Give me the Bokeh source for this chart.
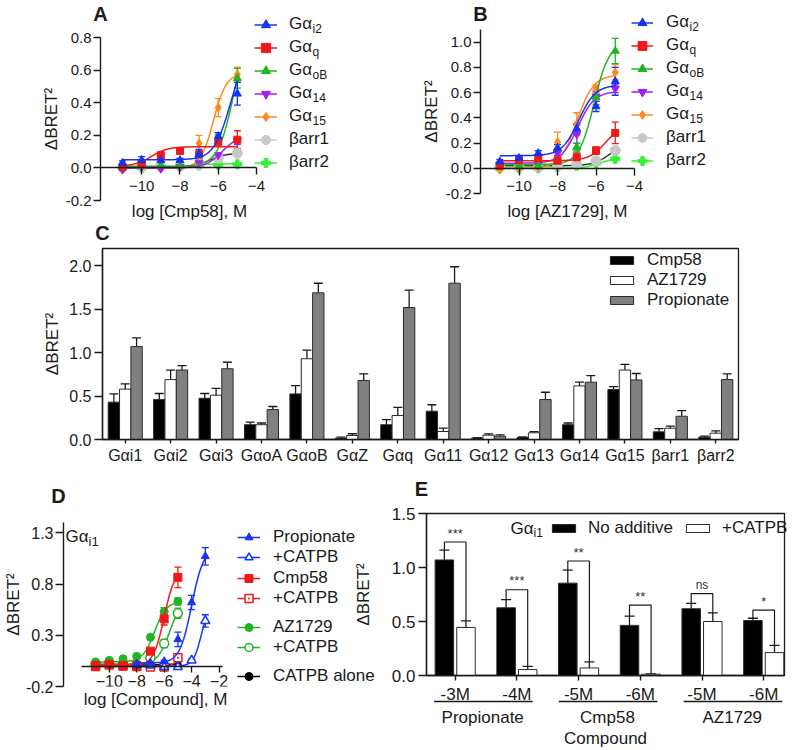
import numpy as np
from bokeh.plotting import figure
from bokeh.models import (Range1d, FactorRange, ColumnDataSource, Whisker, TeeHead, Legend,
                          LegendItem, Label, LabelSet, FixedTicker, NumeralTickFormatter)
from bokeh.transform import dodge
from bokeh.layouts import row, column
from bokeh.core.properties import value
from bokeh.embed import file_html
from bokeh.resources import INLINE

# ======================= DATA =======================
log_conc = [-11, -10, -9, -8, -7, -6, -5]
sensor_main = ["Gα", "Gα", "Gα", "Gα", "Gα", "βarr1", "βarr2"]
sensor_sub = ["i2", "q", "oB", "14", "15", "", ""]

# Panel A (Cmp58): mean / SEM
a_gai2 = [0.031, 0.047, 0.047, 0.047, 0.084, 0.194, 0.455]
a_gai2_sem = [0.012, 0.022, 0.012, 0.012, 0.030, 0.022, 0.070]
a_gaq = [0.006, 0.027, 0.078, 0.104, 0.084, 0.160, 0.173]
a_gaq_sem = [0.008, 0.010, 0.010, 0.010, 0.012, 0.015, 0.055]
a_gaob = [0.006, 0.010, 0.016, 0.012, 0.080, 0.185, 0.550]
a_gaob_sem = [0.006, 0.006, 0.006, 0.006, 0.015, 0.020, 0.060]
a_ga14 = [-0.010, 0.006, -0.004, 0.006, 0.030, 0.078, 0.165]
a_ga14_sem = [0.006, 0.006, 0.006, 0.006, 0.010, 0.015, 0.020]
a_ga15 = [0.000, 0.006, -0.004, 0.016, 0.150, 0.370, 0.573]
a_ga15_sem = [0.006, 0.006, 0.006, 0.008, 0.050, 0.055, 0.045]
a_barr1 = [0.005, 0.005, 0.010, 0.010, 0.020, 0.060, 0.090]
a_barr1_sem = [0.004, 0.004, 0.004, 0.004, 0.006, 0.008, 0.010]
a_barr2 = [0.000, 0.000, 0.005, 0.010, 0.015, 0.020, 0.022]
a_barr2_sem = [0.004, 0.004, 0.004, 0.004, 0.005, 0.005, 0.006]
# fitted sigmoid parameters (order: Gαi2, Gαq, GαoB, Gα14, Gα15, βarr1, βarr2)
a_fit_bottom = [0.05, 0.01, 0.01, 0.0, 0.0, 0.0, 0.0]
a_fit_top = [0.75, 0.13, 1.0, 0.2, 0.58, 0.09, 0.025]
a_fit_logec50 = [-5.35, -9.5, -5.1, -5.8, -6.25, -6.5, -7.5]
a_fit_hill = [1.0, 1.0, 1.0, 1.0, 1.3, 1.0, 1.0]

# Panel B (AZ1729): mean / SEM
b_gai2 = [0.053, 0.080, 0.119, 0.162, 0.313, 0.490, 0.689]
b_gai2_sem = [0.015, 0.015, 0.020, 0.025, 0.040, 0.040, 0.110]
b_gaq = [0.020, 0.066, 0.080, 0.060, 0.087, 0.140, 0.280]
b_gaq_sem = [0.020, 0.015, 0.015, 0.030, 0.035, 0.030, 0.085]
b_gaob = [0.030, 0.025, 0.020, 0.060, 0.167, 0.564, 0.930]
b_gaob_sem = [0.010, 0.010, 0.010, 0.015, 0.030, 0.060, 0.100]
b_ga14 = [0.030, 0.030, 0.030, 0.120, 0.270, 0.570, 0.630]
b_ga14_sem = [0.010, 0.010, 0.010, 0.020, 0.070, 0.040, 0.030]
b_ga15 = [-0.010, 0.000, 0.010, 0.207, 0.350, 0.630, 0.760]
b_ga15_sem = [0.010, 0.010, 0.010, 0.080, 0.090, 0.030, 0.060]
b_barr1 = [0.010, 0.010, 0.010, 0.020, 0.030, 0.060, 0.140]
b_barr1_sem = [0.005, 0.005, 0.005, 0.006, 0.008, 0.010, 0.015]
b_barr2 = [0.000, 0.000, 0.000, 0.010, 0.020, 0.040, 0.075]
b_barr2_sem = [0.004, 0.004, 0.004, 0.005, 0.006, 0.008, 0.012]
b_fit_bottom = [0.10, 0.06, 0.03, 0.04, 0.0, 0.02, 0.0]
b_fit_top = [0.66, 0.35, 1.0, 0.61, 0.74, 0.20, 0.09]
b_fit_logec50 = [-6.9, -5.5, -6.1, -6.95, -7.0, -5.3, -5.7]
b_fit_hill = [1.0, 1.0, 1.1, 1.0, 1.0, 1.0, 1.0]

# Panel C: max response per biosensor
c_groups = ["Gαi1", "Gαi2", "Gαi3", "GαoA", "GαoB", "GαZ", "Gαq", "Gα11", "Gα12",
            "Gα13", "Gα14", "Gα15", "βarr1", "βarr2"]
c_main = ["Gα", "Gα", "Gα", "Gα", "Gα", "Gα", "Gα", "Gα", "Gα", "Gα", "Gα", "Gα",
          "βarr1", "βarr2"]
c_sub = ["i1", "i2", "i3", "oA", "oB", "Z", "q", "11", "12", "13", "14", "15", "", ""]
c_cmp58 = [0.43, 0.46, 0.475, 0.17, 0.525, 0.015, 0.17, 0.326, 0.015, 0.023, 0.17, 0.575, 0.088, 0.027]
c_cmp58_sem = [0.095, 0.07, 0.055, 0.03, 0.095, 0.012, 0.06, 0.074, 0.005, 0.006, 0.02, 0.035, 0.038, 0.011]
c_az1729 = [0.58, 0.69, 0.51, 0.17, 0.93, 0.046, 0.276, 0.092, 0.05, 0.077, 0.617, 0.80, 0.13, 0.073]
c_az1729_sem = [0.06, 0.11, 0.08, 0.02, 0.10, 0.02, 0.094, 0.038, 0.015, 0.013, 0.043, 0.066, 0.023, 0.027]
c_prop = [1.07, 0.80, 0.815, 0.345, 1.69, 0.68, 1.52, 1.80, 0.038, 0.46, 0.66, 0.686, 0.268, 0.69]
c_prop_sem = [0.10, 0.05, 0.075, 0.035, 0.11, 0.075, 0.20, 0.19, 0.016, 0.084, 0.075, 0.074, 0.065, 0.065]

# Panel D: Gαi1 responses +/- CATPB
d_conc = [-11, -10, -9, -8, -7, -6, -5]
d_prop_conc = [-8, -7, -6, -5, -4, -3]
d_prop = [0.020, 0.030, 0.045, 0.260, 0.620, 1.070]
d_prop_sem = [0.010, 0.010, 0.010, 0.070, 0.070, 0.085]
d_prop_catpb = [0.010, 0.005, -0.010, -0.010, 0.055, 0.440]
d_prop_catpb_sem = [0.010, 0.010, 0.020, 0.010, 0.015, 0.060]
d_cmp58 = [0.005, 0.015, 0.000, 0.005, 0.145, 0.460, 0.865]
d_cmp58_sem = [0.010, 0.010, 0.010, 0.010, 0.020, 0.060, 0.100]
d_cmp58_catpb = [-0.005, 0.010, 0.000, -0.005, -0.010, -0.010, 0.080]
d_cmp58_catpb_sem = [0.005, 0.010, 0.005, 0.005, 0.005, 0.015, 0.015]
d_az = [0.040, 0.055, 0.070, 0.095, 0.280, 0.530, 0.630]
d_az_sem = [0.010, 0.010, 0.010, 0.015, 0.020, 0.040, 0.035]
d_az_catpb = [0.020, 0.030, 0.020, 0.015, 0.080, 0.220, 0.515]
d_az_catpb_sem = [0.010, 0.010, 0.010, 0.010, 0.020, 0.040, 0.050]
d_catpb = [0.010, 0.012, 0.010, 0.012, 0.014, 0.016, 0.018]
d_catpb_sem = [0.004, 0.004, 0.004, 0.004, 0.004, 0.004, 0.004]
# fit params order: prop, prop+CATPB, cmp58, cmp58+CATPB, AZ1729, AZ1729+CATPB, CATPB alone
d_fit_bottom = [0.03, 0.0, 0.005, -0.005, 0.04, 0.02, 0.010]
d_fit_top = [1.15, 0.6, 0.95, 0.2, 0.63, 0.65, 0.020]
d_fit_logec50 = [-4.0, -3.3, -6.0, -4.8, -6.7, -5.6, -6.0]
d_fit_hill = [1.0, 1.5, 1.1, 1.5, 1.0, 1.0, 1.0]

# Panel E: Gαi1, no additive vs +CATPB
e_ticks = ["-3M", "-4M", "-5M", "-6M", "-5M", "-6M"]
e_compounds = ["Propionate", "Cmp58", "AZ1729"]
e_noadd = [1.070, 0.627, 0.855, 0.464, 0.618, 0.509]
e_noadd_sem = [0.090, 0.076, 0.121, 0.086, 0.049, 0.021]
e_catpb = [0.445, 0.055, 0.070, 0.012, 0.500, 0.212]
e_catpb_sem = [0.061, 0.030, 0.057, 0.003, 0.080, 0.067]
e_sig_level = [1.236, 0.794, 1.060, 0.652, 0.758, 0.606]
e_sig_text = ["***", "***", "**", "**", "ns", "*"]

# ======================= STYLE =======================
FONT = "Liberation Sans"
INK = "#1a1a1a"
BLUE, RED, GREEN, PURPLE, ORANGE = "#1433f5", "#f01818", "#23b323", "#a21ff0", "#ff8a1f"
LGRAY, LGREEN = "#c8c8c8", "#33f033"
NAN = float("nan")

CW = {"G": .778, "α": .578, "β": .575, "a": .556, "r": .333, "i": .222, "o": .556,
      "A": .667, "B": .667, "Z": .611, "q": .556}


def tw(s, size):
    return sum(CW.get(ch, 0.556) for ch in s) * size


def make_fig(w, h, xr, yr, left, right, top, bottom):
    p = figure(width=w, height=h, x_range=xr, y_range=yr, output_backend="svg",
               toolbar_location=None, min_border_left=left, min_border_right=right,
               min_border_top=top, min_border_bottom=bottom)
    p.background_fill_color = None
    p.border_fill_color = None
    p.outline_line_color = None
    p.xgrid.grid_line_color = None
    p.ygrid.grid_line_color = None
    return p


def style_axes(p, tick_size="16px", label_size="17px", xtick_out=7, ytick_out=7,
               xstand=3, ystand=3):
    for ax in (p.xaxis[0], p.yaxis[0]):
        ax.axis_line_color = INK
        ax.axis_line_width = 1.4
        ax.major_tick_line_color = INK
        ax.major_tick_line_width = 1.4
        ax.major_tick_in = 0
        ax.minor_tick_line_color = None
        ax.major_label_text_font = FONT
        ax.major_label_text_font_size = tick_size
        ax.major_label_text_color = INK
        ax.axis_label_text_font = FONT
        ax.axis_label_text_font_size = label_size
        ax.axis_label_text_font_style = "normal"
        ax.axis_label_text_color = INK
    p.xaxis[0].major_tick_out = xtick_out
    p.yaxis[0].major_tick_out = ytick_out
    p.xaxis[0].major_label_standoff = xstand
    p.yaxis[0].major_label_standoff = ystand


def logistic(x, bottom, top, logec50, hill):
    x = np.asarray(x, dtype=float)
    return bottom + (top - bottom) / (1.0 + 10.0 ** ((logec50 - x) * hill))


def add_errbars(p, x, mean, sem, color, size=7):
    src = ColumnDataSource(dict(x=list(x), lo=[m - s for m, s in zip(mean, sem)],
                                hi=[m + s for m, s in zip(mean, sem)]))
    p.add_layout(Whisker(source=src, base="x", lower="lo", upper="hi",
                         line_color=color, line_width=1.3,
                         upper_head=TeeHead(size=size, line_color=color, line_width=1.3),
                         lower_head=TeeHead(size=size, line_color=color, line_width=1.3)))


def marker_kw(color, marker, size, fill):
    return dict(marker=marker, size=size, fill_color=fill or color, line_color=color,
                line_width=1.5 if fill else 1)


def add_series(p, x, mean, sem, fit, color, marker, size, fill=None, fit_color=None):
    xs = np.linspace(min(x), max(x), 200)
    p.line(xs, logistic(xs, *fit), line_color=fit_color or color, line_width=1.5)
    add_errbars(p, x, mean, sem, color)
    p.scatter(list(x), list(mean), **marker_kw(color, marker, size, fill))


# ---------- full-page overlay that carries titles, legends and outside texts ----------
W, H = 794, 750
ov = figure(width=W, height=H, x_range=Range1d(0, W), y_range=Range1d(H, 0),
            output_backend="svg", toolbar_location=None, min_border=0)
ov.axis.visible = False
ov.xgrid.visible = False
ov.ygrid.visible = False
ov.outline_line_color = None
ov.background_fill_color = None
ov.border_fill_color = None


def ov_text(px, py, text, size="17px", bold=False, align="left", baseline="middle",
            color=INK):
    ov.add_layout(Label(x=px, y=py, text=text, text_font=FONT, text_font_size=size,
                        text_font_style="bold" if bold else "normal", text_color=color,
                        text_align=align, text_baseline=baseline))


def ov_curve_legend(styles, mains, subs, left, top, gw, standoff, row_h,
                    sub_size="12px", sub_dy=4):
    items = []
    for (color, marker, size, fill, lcolor), m in zip(styles, mains):
        # legend-only key glyphs (single NaN point, nothing drawn on the page)
        lr = ov.line(x=[NAN], y=[NAN], line_color=lcolor or color, line_width=1.5)
        sr = ov.scatter(x=[NAN], y=[NAN], **marker_kw(color, marker, size, fill))
        items.append(LegendItem(label=m, renderers=[lr, sr]))
    n = len(mains)
    leg = Legend(items=items, location=(left, H - (top + n * row_h)), orientation="vertical",
                 glyph_width=gw, glyph_height=row_h, label_height=row_h,
                 label_standoff=standoff, spacing=0, padding=0, margin=0,
                 border_line_color=None, background_fill_color=None,
                 label_text_font=FONT, label_text_font_size="17px", label_text_color=INK)
    ov.add_layout(leg)
    tx = left + gw + standoff
    for i, (m, s) in enumerate(zip(mains, subs)):
        if s:
            ov_text(tx + tw(m, 17), top + row_h * (i + 0.5) + sub_dy, s, size=sub_size)


SENSOR_STYLE = [(BLUE, "triangle", 8, None, None), (RED, "square", 7, None, None),
                (GREEN, "triangle", 8, None, None), (PURPLE, "inverted_triangle", 8, None, None),
                (ORANGE, "diamond", 9, None, None), (LGRAY, "circle", 10, None, None),
                (LGREEN, "plus", 9, None, None)]
FIT_COLORS = [BLUE, RED, GREEN, PURPLE, ORANGE, "#333333", LGREEN]


def dose_panel(p, means, sems, fb, ft, fe, fh):
    for i in reversed(range(7)):
        color, marker, size, _, _ = SENSOR_STYLE[i]
        add_series(p, log_conc, means[i], sems[i], (fb[i], ft[i], fe[i], fh[i]),
                   color, marker, size, fit_color=FIT_COLORS[i])


# ======================= PANEL A =======================
pA = make_fig(390, 234, Range1d(-12.15, -3.27), Range1d(-0.2, 0.8), 100, 120, 37, 34)
style_axes(pA, tick_size="15px", xstand=6, ystand=2)
pA.xaxis[0].fixed_location = 0
pA.xaxis[0].bounds = (-12.15, -4)
pA.xaxis[0].ticker = FixedTicker(ticks=[-10, -8, -6, -4])
pA.yaxis[0].ticker = FixedTicker(ticks=[-0.2, 0.0, 0.2, 0.4, 0.6, 0.8])
pA.yaxis[0].formatter = NumeralTickFormatter(format="0.0")
pA.yaxis[0].axis_label = "ΔBRET²"
pA.yaxis[0].axis_label_standoff = 2
dose_panel(pA, [a_gai2, a_gaq, a_gaob, a_ga14, a_ga15, a_barr1, a_barr2],
           [a_gai2_sem, a_gaq_sem, a_gaob_sem, a_ga14_sem, a_ga15_sem, a_barr1_sem, a_barr2_sem],
           a_fit_bottom, a_fit_top, a_fit_logec50, a_fit_hill)

# ======================= PANEL B =======================
pB = make_fig(404, 234, Range1d(-12, -3.17), Range1d(-0.2, 1.1), 90, 144, 29, 41)
style_axes(pB, tick_size="15px", xstand=6, ystand=2)
pB.xaxis[0].fixed_location = 0
pB.xaxis[0].bounds = (-12, -4)
pB.xaxis[0].ticker = FixedTicker(ticks=[-10, -8, -6, -4])
pB.yaxis[0].ticker = FixedTicker(ticks=[-0.2, 0.0, 0.2, 0.4, 0.6, 0.8, 1.0])
pB.yaxis[0].formatter = NumeralTickFormatter(format="0.0")
pB.yaxis[0].axis_label = "ΔBRET²"
pB.yaxis[0].axis_label_standoff = 2
dose_panel(pB, [b_gai2, b_gaq, b_gaob, b_ga14, b_ga15, b_barr1, b_barr2],
           [b_gai2_sem, b_gaq_sem, b_gaob_sem, b_ga14_sem, b_ga15_sem, b_barr1_sem, b_barr2_sem],
           b_fit_bottom, b_fit_top, b_fit_logec50, b_fit_hill)

# legends / titles / x labels of A and B (overlay, page pixels)
leg_styles = [SENSOR_STYLE[i] if i != 5 else (LGRAY, "circle", 10, None, LGRAY)
              for i in range(7)]
ov_curve_legend(leg_styles, sensor_main, sensor_sub, 254, 12.5, 23, 12, 23)
ov_curve_legend(leg_styles, sensor_main, sensor_sub, 631, 10.5, 22, 13, 23)
ov_text(100, 13, "A", size="20px", bold=True, align="center")
ov_text(480, 13, "B", size="20px", bold=True, align="center")
ov_text(189, 211, "log [Cmp58], M", align="center")
ov_text(567, 211, "log [AZ1729], M", align="center")

# ======================= PANEL C =======================
pC = make_fig(794, 255, FactorRange(factors=c_groups), Range1d(0, 2.2), 102, 56, 26, 38)
style_axes(pC, tick_size="16px", xtick_out=4, ytick_out=8, xstand=3, ystand=3)
pC.outline_line_color = INK
pC.outline_line_width = 1.3
pC.yaxis[0].ticker = FixedTicker(ticks=[0.0, 0.5, 1.0, 1.5, 2.0])
pC.yaxis[0].formatter = NumeralTickFormatter(format="0.0")
pC.yaxis[0].axis_label = "ΔBRET²"
pC.yaxis[0].axis_label_standoff = 4
pC.xaxis[0].major_label_overrides = {g: "" for g in c_groups}

srcC = ColumnDataSource(dict(
    group=c_groups, cmp58=c_cmp58, az=c_az1729, prop=c_prop,
    cmp58_hi=[v + e for v, e in zip(c_cmp58, c_cmp58_sem)],
    az_hi=[v + e for v, e in zip(c_az1729, c_az1729_sem)],
    prop_hi=[v + e for v, e in zip(c_prop, c_prop_sem)]))
bar_specs = [(-0.25, "cmp58", "#000000"), (0.0, "az", "#ffffff"), (0.25, "prop", "#808080")]
c_bars = []
for off, key, col in bar_specs:
    c_bars.append(pC.vbar(x=dodge("group", off, range=pC.x_range), top=key, width=0.25,
                          source=srcC, fill_color=col, line_color="#2a2a2a", line_width=1))
    pC.add_layout(Whisker(source=srcC, base=dodge("group", off, range=pC.x_range),
                          lower=key, upper=key + "_hi", line_color=INK, line_width=1.3,
                          upper_head=TeeHead(size=9, line_color=INK, line_width=1.3),
                          lower_head=None))
c_main_off = [-(tw(m, 17) + tw(s, 12)) / 2 for m, s in zip(c_main, c_sub)]
c_sub_off = [o + tw(m, 17) for o, m in zip(c_main_off, c_main)]
lsrcC = ColumnDataSource(dict(group=c_groups, main=c_main, sub=c_sub, moff=c_main_off,
                              soff=c_sub_off, y=[0.0] * len(c_groups)))
pC.add_layout(LabelSet(source=lsrcC, x="group", y="y", text="main", x_offset="moff",
                       y_offset=-16, text_font=value(FONT), text_font_size="17px",
                       text_color=INK, text_align="left", text_baseline="alphabetic"))
pC.add_layout(LabelSet(source=lsrcC, x="group", y="y", text="sub", x_offset="soff",
                       y_offset=-22, text_font=value(FONT), text_font_size="12px",
                       text_color=INK, text_align="left", text_baseline="alphabetic"))
legC = Legend(items=[LegendItem(label="Cmp58", renderers=[c_bars[0]]),
                     LegendItem(label="AZ1729", renderers=[c_bars[1]]),
                     LegendItem(label="Propionate", renderers=[c_bars[2]])],
              location=(505, 129), glyph_width=29, glyph_height=10, label_height=20,
              label_standoff=11, spacing=0, padding=0, margin=0,
              border_line_color=None, background_fill_color=None,
              label_text_font=FONT, label_text_font_size="17px", label_text_color=INK)
pC.add_layout(legC)
ov_text(102, 232, "C", size="20px", bold=True, align="center")

# ======================= PANEL D =======================
pD = make_fig(390, 273, Range1d(-13.34, -0.8), Range1d(-0.2, 1.4), 58, 155, 45, 64)
style_axes(pD, tick_size="16px", xtick_out=6, ytick_out=8, xstand=3, ystand=2)
pD.xaxis[0].fixed_location = 0
pD.xaxis[0].bounds = (-12, -1.72)
pD.xaxis[0].ticker = FixedTicker(ticks=[-10, -8, -6, -4, -2])
pD.yaxis[0].ticker = FixedTicker(ticks=[-0.2, 0.3, 0.8, 1.3])
pD.yaxis[0].formatter = NumeralTickFormatter(format="0.0")
pD.yaxis[0].axis_label = "ΔBRET²"
pD.yaxis[0].axis_label_standoff = 0

d_specs = [
    (d_prop_conc, d_prop, d_prop_sem, (BLUE, "triangle", 8, None, None)),
    (d_prop_conc, d_prop_catpb, d_prop_catpb_sem, (BLUE, "triangle", 9, "white", None)),
    (d_conc, d_cmp58, d_cmp58_sem, (RED, "square", 8, None, None)),
    (d_conc, d_cmp58_catpb, d_cmp58_catpb_sem, (RED, "square_dot", 8, "white", None)),
    (d_conc, d_az, d_az_sem, (GREEN, "circle", 8, None, None)),
    (d_conc, d_az_catpb, d_az_catpb_sem, (GREEN, "circle", 9, "white", None)),
    (d_conc, d_catpb, d_catpb_sem, ("#000000", "circle", 6, None, None)),
]
for i in reversed(range(7)):
    xx, mm, ss, (col, mk, sz, fill, _) = d_specs[i]
    add_series(pD, xx, mm, ss, (d_fit_bottom[i], d_fit_top[i], d_fit_logec50[i],
                                d_fit_hill[i]), col, mk, sz, fill=fill)
d_leg_groups = [([0, 1], ["Propionate", "+CATPB"], 527),
                ([2, 3], ["Cmp58", "+CATPB"], 568),
                ([4, 5], ["AZ1729", "+CATPB"], 617),
                ([6], ["CATPB alone"], 666)]
for idxs, labels, top in d_leg_groups:
    ov_curve_legend([d_specs[k][3] for k in idxs], labels, [""] * len(idxs),
                    237, top, 23, 13, 20)
ov_text(65, 536, "Gα", size="17px")
ov_text(65 + tw("Gα", 17), 541, "i1", size="13px")
ov_text(58, 495, "D", size="20px", bold=True, align="center")
ov_text(155, 699, "log [Compound], M", align="center")

# ======================= PANEL E =======================
e_idx = list(range(len(e_ticks)))
e_xr = (-0.465, 5.337)
E_LEFT, E_RIGHT, E_BOTTOM = 422, 784, 678
pE = make_fig(444, 273, Range1d(*e_xr), Range1d(0, 1.5), 72, 10, 36, 72)
style_axes(pE, tick_size="17px", xtick_out=5, ytick_out=8, xstand=4, ystand=3)
pE.outline_line_color = INK
pE.outline_line_width = 1.3
pE.yaxis[0].ticker = FixedTicker(ticks=[0.0, 0.5, 1.0, 1.5])
pE.yaxis[0].formatter = NumeralTickFormatter(format="0.0")
pE.yaxis[0].axis_label = "ΔBRET²"
pE.yaxis[0].axis_label_standoff = 16
pE.xaxis[0].ticker = FixedTicker(ticks=e_idx)
pE.xaxis[0].major_label_overrides = {i: t for i, t in zip(e_idx, e_ticks)}
pE.xaxis[0].axis_label = "Compound"
pE.xaxis[0].axis_label_standoff = 22

srcE = ColumnDataSource(dict(
    idx=e_idx, noadd=e_noadd, catpb=e_catpb,
    noadd_hi=[v + e for v, e in zip(e_noadd, e_noadd_sem)],
    catpb_hi=[v + e for v, e in zip(e_catpb, e_catpb_sem)]))
for off, key, col in [(-0.175, "noadd", "#000000"), (0.175, "catpb", "#ffffff")]:
    pE.vbar(x=dodge("idx", off), top=key, width=0.3, source=srcE,
            fill_color=col, line_color="#2a2a2a", line_width=1)
    pE.add_layout(Whisker(source=srcE, base=dodge("idx", off), lower=key, upper=key + "_hi",
                          line_color=INK, line_width=1.3,
                          upper_head=TeeHead(size=10, line_color=INK, line_width=1.3),
                          lower_head=None))
br_xs = [[i - 0.175, i - 0.175, i + 0.175, i + 0.175] for i in e_idx]
br_ys = [[a + sa, s, s, b + sb] for a, sa, s, b, sb in
         zip(e_noadd, e_noadd_sem, e_sig_level, e_catpb, e_catpb_sem)]
pE.multi_line(xs=br_xs, ys=br_ys, line_color=INK, line_width=1.2)
sig_src = ColumnDataSource(dict(x=e_idx, y=e_sig_level, t=e_sig_text,
                                fs=["13px" if t != "ns" else "12px" for t in e_sig_text]))
pE.add_layout(LabelSet(source=sig_src, x="x", y="y", text="t", y_offset=9,
                       text_font=value(FONT), text_font_size="fs", text_color="#333333",
                       text_align="center", text_baseline="middle"))


def e_px(v):
    # page x of an E data value (same linear map as panel E's x scale)
    return E_LEFT + (v - e_xr[0]) / (e_xr[1] - e_xr[0]) * (E_RIGHT - E_LEFT)


ul_x0 = [e_px(2 * k - 0.28) for k in range(len(e_compounds))]
ul_x1 = [e_px(2 * k + 1.3) for k in range(len(e_compounds))]
ov.segment(x0=ul_x0, x1=ul_x1, y0=[701] * 3, y1=[701] * 3, line_color=INK, line_width=1.6)
for k, name in enumerate(e_compounds):
    ov_text(e_px(2 * k + 0.5), 717, name, align="center")

# E legend (overlay)
e_leg_items = []
for lab, col in [("No additive", "#000000"), ("+CATPB", "#ffffff")]:
    r = ov.vbar(x=[NAN], top=[NAN], width=1, fill_color=col, line_color="#2a2a2a",
                line_width=1)
    e_leg_items.append(LegendItem(label=lab, renderers=[r]))
legE = Legend(items=e_leg_items, location=(549, H - 538), orientation="horizontal",
              glyph_width=29, glyph_height=10, label_height=20, label_standoff=10,
              spacing=10, padding=0, margin=0, border_line_color=None,
              background_fill_color=None, label_text_font=FONT,
              label_text_font_size="17px", label_text_color=INK)
ov.add_layout(legE)
ov_text(510, 528, "Gα", size="17px")
ov_text(510 + tw("Gα", 17), 532, "i1", size="12px")
ov_text(421, 488, "E", size="20px", bold=True, align="center")

# ---------- layout: each figure in its own box so frames are not cross-aligned ----------
boxA, boxB = column(pA), column(pB)
boxC = column(pC)
boxC.margin = (-12, 0, 0, 0)
boxD, boxE = column(pD), column(pE)
boxE.margin = (0, 0, 0, -40)
boxO = column(ov)
boxO.margin = (-H, 0, 0, 0)
layout = column(row(boxA, boxB), boxC, row(boxD, boxE), boxO)
with open("out.html", "w", encoding="utf-8") as f:
    f.write(file_html(layout, INLINE))
